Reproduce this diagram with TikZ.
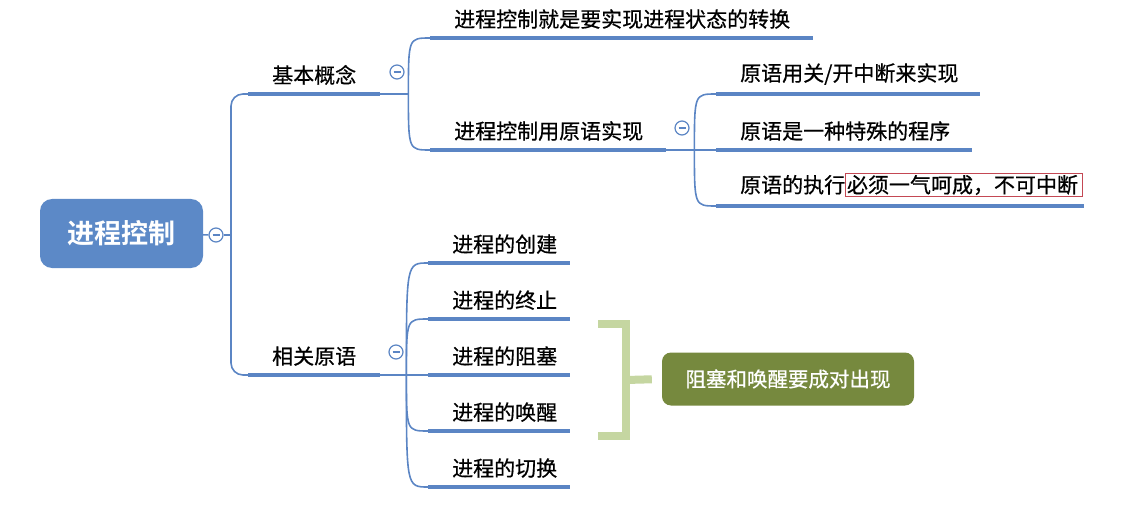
\documentclass[tikz,border=0pt]{standalone}
\usepackage{fontspec}
\setmainfont{Noto Sans CJK SC}[FakeBold=0.6]
\newfontfamily\rootfont{Noto Sans CJK SC Bold}
\usepackage{xcolor}
\usepackage{tikz}
\usetikzlibrary{calc,positioning}
\definecolor{mapblue}{RGB}{91,133,196}
\definecolor{rootblue}{RGB}{92,137,199}
\definecolor{noteolive}{RGB}{118,137,62}
\definecolor{bracegreen}{RGB}{197,214,161}
\definecolor{hlred}{RGB}{196,72,84}
\newcommand{\hilite}[1]{{\setlength{\fboxsep}{1pt}\setlength{\fboxrule}{0.8pt}\fcolorbox{hlred}{white}{#1\hspace{3pt}}}}

\begin{document}
\begin{tikzpicture}[x=1pt, y=-1pt,
		topic/.style={anchor=south west, text width=#1, align=left, inner xsep=0, inner ysep=9, font=\fontsize{21}{25}\selectfont, execute at begin node={\noindent\hspace*{24pt}}},
		rootbox/.style={rounded corners=12, fill=rootblue, text=white, minimum width=163, minimum height=69, font=\fontsize{27}{30}\selectfont\rootfont},
		note/.style={rounded corners=9, fill=noteolive, text=white, minimum width=252, minimum height=53, font=\fontsize{20.5}{24}\selectfont},
		uline/.style={draw=mapblue, line width=4.5pt},
		conn/.style={draw=mapblue, line width=1.6pt},
		bracket/.style={draw=bracegreen, line width=8pt},
		fold/.style={circle, draw=mapblue, line width=1.2pt, fill=white, minimum size=14, inner sep=0, path picture={\draw[mapblue, line width=1.2pt] ([xshift=-3.5]path picture bounding box.center) -- ([xshift=3.5]path picture bounding box.center);}}
		]
		\useasboundingbox (0,0) rectangle (1137,505);
		\node[rootbox] (root) at (121.5,233.5) {进程控制};
		\node[fold] (f0) at (216,235) {};
		\node[topic=132] (basic) at (248,94) {基本概念};
		\node[topic=132] (rel) at (248,375) {相关原语};
		\node[fold] (f1) at (397,72) {};
		\node[fold] (f3) at (396,352) {};
		\node[topic=383] (goal) at (430,38) {进程控制就是要实现进程状态的转换};
		\node[topic=236] (prim) at (430,150) {进程控制用原语实现};
		\node[fold] (f2) at (682,128) {};
		\node[topic=264] (p1) at (716,94) {原语用关/开中断来实现};
		\node[topic=256] (p2) at (716,150) {原语是一种特殊的程序};
		\node[topic=368] (p3) at (716,206) {原语的执行\hilite{必须一气呵成，不可中断}};
		\foreach \y/\t [count=\i] in {263/创建, 319/终止, 375/阻塞, 431/唤醒, 487/切换}
			\node[topic=142] (c\i) at (428,\y) {进程的\t};
		\node[note] (note) at (788,379) {阻塞和唤醒要成对出现};
		\foreach \n in {basic,rel,goal,prim,p1,p2,p3,c1,c2,c3,c4,c5}
			\draw[uline] (\n.south west) -- (\n.south east);
		\coordinate (s0) at (231,235);
		\draw[conn] (root) -- (f0);
		\draw[conn] (f0) -- (s0);
		\draw[conn, rounded corners=12] (s0) |- (basic.south west);
		\draw[conn, rounded corners=12] (s0) |- (rel.south west);
		\draw[conn] (basic.south east) -- ++(28,0) coordinate (s1);
		\foreach \c in {goal,prim}
			\draw[conn] (s1) .. controls (s1 |- \c.south west) .. (\c.south west);
		\draw[conn] (prim.south east) -- ++(28,0) coordinate (s2);
		\foreach \c in {p1,p2,p3}
			\draw[conn] (s2) .. controls (s2 |- \c.south west) .. (\c.south west);
		\draw[conn] (rel.south east) -- ++(26,0) coordinate (s3);
		\foreach \c in {c1,c2,c3,c4,c5}
			\draw[conn] (s3) .. controls (s3 |- \c.south west) .. (\c.south west);
		\coordinate (bt) at (598,324);
		\coordinate (bb) at (598,436);
		\draw[bracket] (bt) -- ++(28,0) coordinate (bc) -- (bc |- bb) -- (bb);
		\draw[bracket, shorten >=10pt] ($(bc)!.5!(bc |- bb)$) -- (note.west);
\end{tikzpicture}
\end{document}
